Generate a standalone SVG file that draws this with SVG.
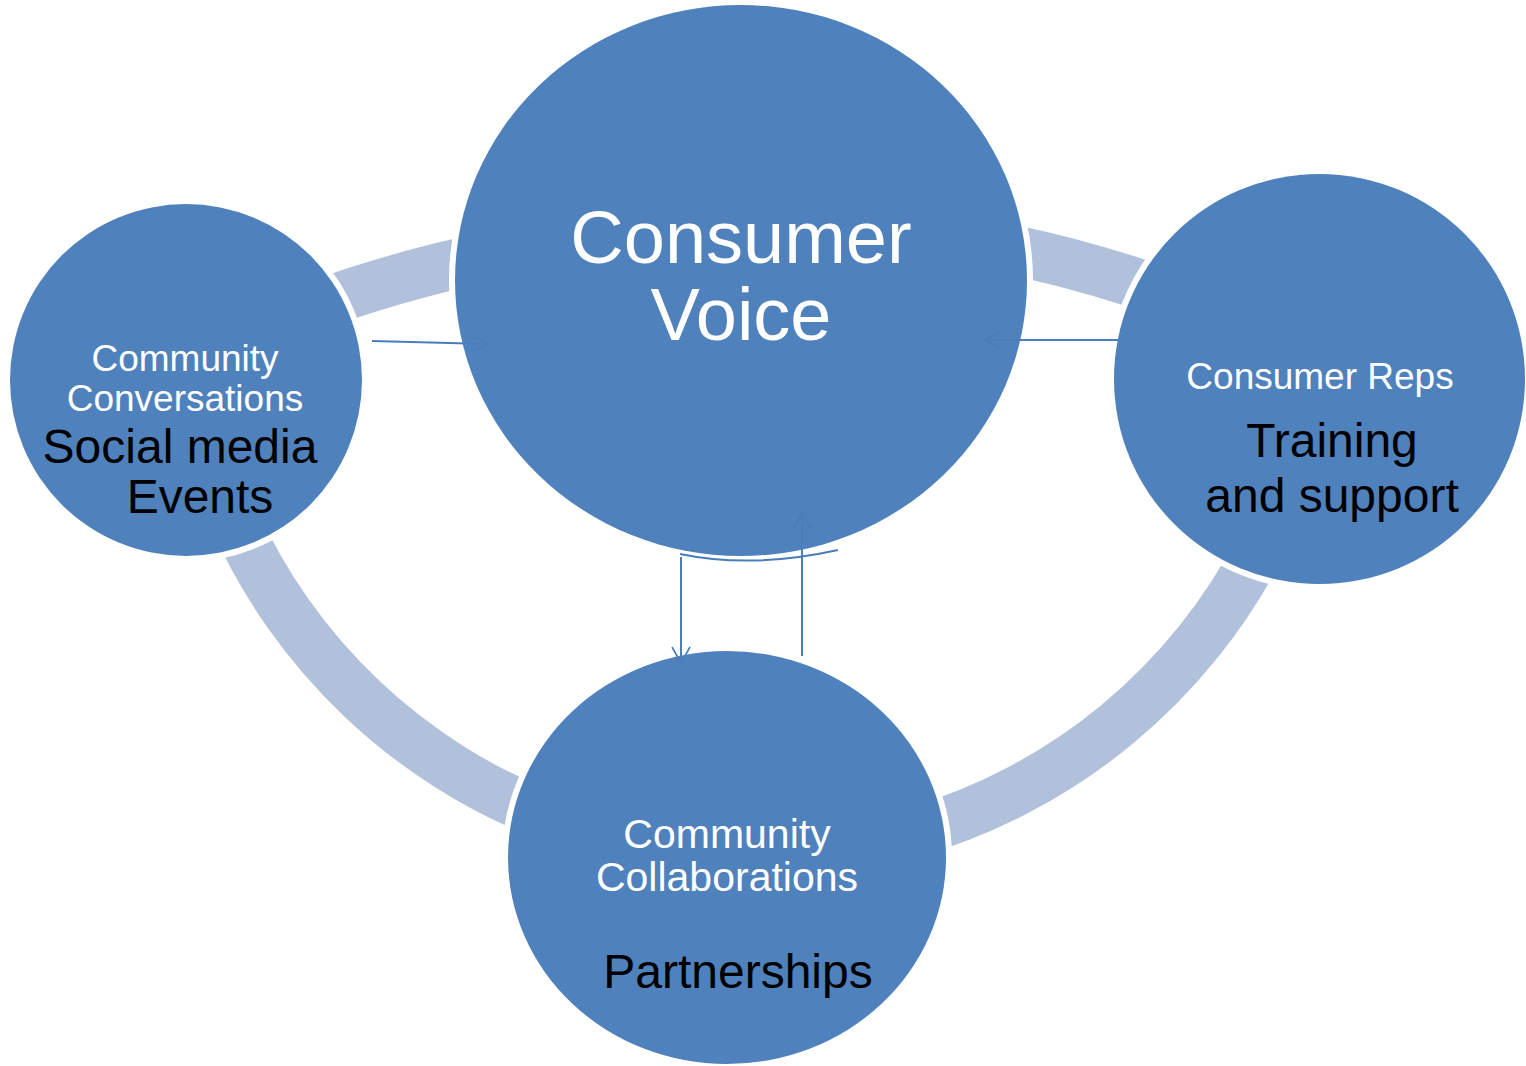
<svg xmlns="http://www.w3.org/2000/svg" width="1526" height="1066" viewBox="0 0 1526 1066">
<style>
.band{fill:#B2C1DB;stroke:none}
.node{fill:#4F81BD;stroke:#FFFFFF;stroke-width:12;paint-order:stroke}
.w{fill:#FFFFFF;font-family:"Liberation Sans",Arial,sans-serif;text-anchor:middle}
.b{fill:#000000;font-family:"Liberation Sans",Arial,sans-serif;text-anchor:middle}
.conn{fill:none;stroke:#4A7DBA;stroke-width:2}
</style>
<defs>
<marker id="arr" viewBox="0 0 20 20" refX="18" refY="10" markerWidth="20" markerHeight="20" markerUnits="userSpaceOnUse" orient="auto">
<path d="M2 1 L18 10 L2 19" fill="none" stroke="#4A7DBA" stroke-width="1.6"/>
</marker>
</defs>
<rect width="1526" height="1066" fill="#FFFFFF"/>
<g id="bands">
<path class="band" d="M291.4 288 A1269 1269 0 0 1 487 231.5 L497 280.5 A1219 1219 0 0 0 309 334.7 Z"/>
<path class="band" d="M993.8 220.5 A1278 1278 0 0 1 1187 274 L1170 321 A1228 1228 0 0 0 984.3 269.6 Z"/>
<path class="band" d="M210.5 527 A595 595 0 0 0 541 840.5 L558.7 793.8 A545 545 0 0 1 256 506.7 Z"/>
<path class="band" d="M918 857 A595 595 0 0 0 1284 555 L1239.6 532.4 A545 545 0 0 1 904 809 Z"/>
</g>
<g id="node-consumer-voice">
<ellipse class="node" cx="741" cy="280.5" rx="286" ry="275.5"/>
<text class="w" x="741" y="263" font-size="74">Consumer</text>
<text class="w" x="741" y="340" font-size="74">Voice</text>
</g>
<g id="node-community-conversations">
<circle class="node" cx="186" cy="380" r="176"/>
<text class="w" x="185" y="371" font-size="37">Community</text>
<text class="w" x="185" y="411" font-size="37">Conversations</text>
<text class="b" x="180" y="463" font-size="48">Social media</text>
<text class="b" x="200" y="513" font-size="48">Events</text>
</g>
<g id="node-consumer-reps">
<ellipse class="node" cx="1319.5" cy="379" rx="205.5" ry="205"/>
<text class="w" x="1320" y="389" font-size="37">Consumer Reps</text>
<text class="b" x="1332" y="457" font-size="48">Training</text>
<text class="b" x="1332" y="512" font-size="48">and support</text>
</g>
<g id="node-community-collaborations">
<ellipse class="node" cx="727" cy="857.5" rx="219" ry="206.5"/>
<text class="w" x="727" y="848" font-size="41">Community</text>
<text class="w" x="727" y="891" font-size="41">Collaborations</text>
<text class="b" x="738" y="988" font-size="48">Partnerships</text>
</g>
<g id="connectors">
<path class="conn" d="M372 341 L488 344" marker-end="url(#arr)"/>
<path class="conn" d="M1118 340 L985 340" marker-end="url(#arr)"/>
<path class="conn" d="M681 557 L681 663" marker-end="url(#arr)"/>
<path class="conn" d="M802 656 L802 513" marker-end="url(#arr)"/>
<path class="conn" d="M680 554 Q752 569 838 550" stroke="#6A93C8" stroke-width="1.2"/>
</g>
</svg>
